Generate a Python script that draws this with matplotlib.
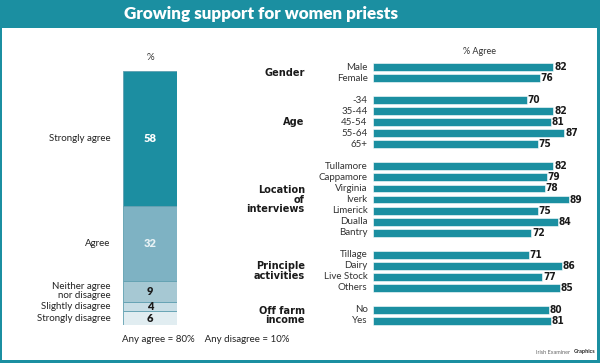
import matplotlib.pyplot as plt
from matplotlib.patches import Rectangle

# overall opinion (stacked bar)
opinion_labels = ['Strongly agree', 'Agree', 'Neither agree\nnor disagree',
                  'Slightly disagree', 'Strongly disagree']
opinion_values = [58, 32, 9, 4, 6]
opinion_colors = ['#1c8ea1', '#7eb2c3', '#a6c8d3', '#c7dde5', '#e1edf1']
opinion_text = ['white', '#e8f2f5', '#1a1a1a', '#1a1a1a', '#1a1a1a']

# % agree by group
group_names = ['Gender', 'Age', 'Location\nof\ninterviews', 'Principle\nactivities', 'Off farm\nincome']
gender_labels = ['Male', 'Female']
gender_values = [82, 76]
age_labels = ['-34', '35-44', '45-54', '55-64', '65+']
age_values = [70, 82, 81, 87, 75]
location_labels = ['Tullamore', 'Cappamore', 'Virginia', 'Iverk', 'Limerick', 'Dualla', 'Bantry']
location_values = [82, 79, 78, 89, 75, 84, 72]
activity_labels = ['Tillage', 'Dairy', 'Live Stock', 'Others']
activity_values = [71, 86, 77, 85]
income_labels = ['No', 'Yes']
income_values = [80, 81]

TEAL = '#1b8fa1'
W, H = 600, 363
fig = plt.figure(figsize=(6, 3.63), dpi=100)
fig.patch.set_facecolor(TEAL)

def px(x0, y0, x1, y1):
    # pixel box (top-left origin) -> figure fraction rect
    return [x0 / W, 1 - y1 / H, (x1 - x0) / W, (y1 - y0) / H]

# white panel
fig.patches.append(Rectangle((2 / W, 3 / H), 595 / W, (360 - 28) / H,
                             transform=fig.transFigure, facecolor='white',
                             edgecolor='none', zorder=-5))
fig.text(261 / W, 1 - 14 / H, 'Growing support for women priests', color='white',
         fontsize=12.3, fontweight='heavy', family=['Lato', 'DejaVu Sans'],
         ha='center', va='center')

label_font = ['Lato', 'DejaVu Sans']
cond = dict(family='DejaVu Sans', fontstretch='condensed', fontweight='bold')

# ---- left stacked bar
axl = fig.add_axes(px(123, 71, 177, 325))
axl.patch.set_alpha(0)
total = sum(opinion_values)
bottom = 0
for lab, v, c, tc in zip(opinion_labels, opinion_values, opinion_colors, opinion_text):
    axl.bar(0, v, bottom=bottom, width=1, color=c, edgecolor='#5f9fb0', linewidth=0.6)
    mid = bottom + v / 2
    axl.text(0, mid, str(v), color=tc, ha='center', va='center', fontsize=8,
             fontweight='heavy', family=label_font)
    axl.text(-0.73, mid, lab, ha='right', va='center', fontsize=7,
             color='#222222', family=label_font, linespacing=0.95)
    bottom += v
axl.set_xlim(-0.5, 0.5)
axl.set_ylim(total, 0)
axl.axis('off')
axl.text(0, -4, '%', ha='center', va='bottom', fontsize=7, color='#333333', family=label_font)
fig.text(122 / W, 1 - 339 / H, 'Any agree = 80%    Any disagree = 10%', fontsize=7,
         color='#222222', family=label_font, ha='left', va='center')

# ---- right grouped bars
axr = fig.add_axes(px(373, 61.5, 593, 326.5))
axr.patch.set_alpha(0)
groups = [(gender_labels, gender_values), (age_labels, age_values),
          (location_labels, location_values), (activity_labels, activity_values),
          (income_labels, income_values)]
row = 0
for name, (labs, vals) in zip(group_names, groups):
    rows = list(range(row, row + len(labs)))
    axr.barh(rows, vals, height=0.72, color=TEAL, edgecolor='white', linewidth=0.4)
    for r, lab, v in zip(rows, labs, vals):
        axr.text(-2.5, r, lab, ha='right', va='center', fontsize=7,
                 color='#333333', family=label_font)
        axr.text(v + 0.3, r, str(v), ha='left', va='center', fontsize=7.3,
                 color='#1a1a1a', **cond)
    axr.text(-31, (rows[0] + rows[-1]) / 2, name, ha='right', va='center',
             fontsize=7.8, color='#1a1a1a', linespacing=0.95, **cond)
    row += len(labs) + 1
axr.set_xlim(0, 100)
axr.set_ylim(row - 1.5, -0.5)
axr.axis('off')
axr.text(48.5, -1.45, '% Agree', ha='center', va='center', fontsize=6.5,
         color='#333333', family=label_font)

fig.text(570 / W, 1 - 352 / H, 'Irish Examiner', fontsize=4, color='#666666',
         family=label_font, ha='right', va='center')
fig.text(595 / W, 1 - 352 / H, 'Graphics', fontsize=4, color='#222222', fontweight='bold',
         family=label_font, ha='right', va='center')

fig.savefig('out.png', dpi=100, facecolor=TEAL)
